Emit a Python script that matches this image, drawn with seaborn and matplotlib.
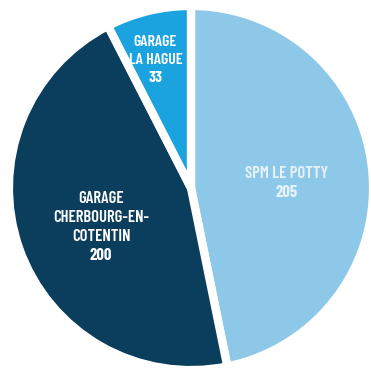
import numpy as np
import matplotlib
matplotlib.use("Agg")
import matplotlib.pyplot as plt
import seaborn as sns

labels = ["SPM LE POTTY", "GARAGE\nCHERBOURG-EN-\nCOTENTIN", "GARAGE\nLA HAGUE"]
values = [205, 200, 33]
colors = ["#8ec8e8", "#0b3d5c", "#1ba3e0"]
text_colors = ["#e6f3fa", "#ffffff", "#ffffff"]
label_dist = [0.54, 0.55, 0.745]
label_angle_shift = [-3.0, 4.0, 2.0]
label_sizes = [12.0, 12.0, 11.5]

sns.set_theme(style="white")
plt.rcParams['font.family'] = ['Barlow Condensed', 'DejaVu Sans']

fig = plt.figure(figsize=(3.71, 3.76), dpi=100)
ax = fig.add_axes([0, 0, 1, 1])
cx, cy, scale = 191.0, 188.0, 178.0
wedges, _ = ax.pie(values, colors=colors, startangle=90, counterclock=False,
                   radius=1.023,
                   wedgeprops=dict(edgecolor="white", linewidth=6))
ax.set_xlim((0 - cx) / scale, (371 - cx) / scale)
ax.set_ylim((cy - 376) / scale, (cy - 0) / scale)
ax.set_aspect("auto")
ax.axis("off")

for w, lab, val, d, sh, tc, fs in zip(wedges, labels, values, label_dist,
                                      label_angle_shift, text_colors, label_sizes):
    mid = np.deg2rad((w.theta1 + w.theta2) / 2 + sh)
    x, y = d * np.cos(mid), d * np.sin(mid)
    n = lab.count("\n") + 1
    lh = (fs * 1.58) / scale
    top = y + (n + 1) * lh / 2
    for i, line in enumerate(lab.split("\n")):
        ax.text(x, top - i * lh - lh / 2, line, ha="center", va="center",
                color=tc, fontsize=fs, fontweight=600)
    ax.text(x, top - n * lh - lh / 2, str(val), ha="center", va="center",
            color=tc, fontsize=fs, fontweight="bold")

fig.savefig("out.png", dpi=100)
